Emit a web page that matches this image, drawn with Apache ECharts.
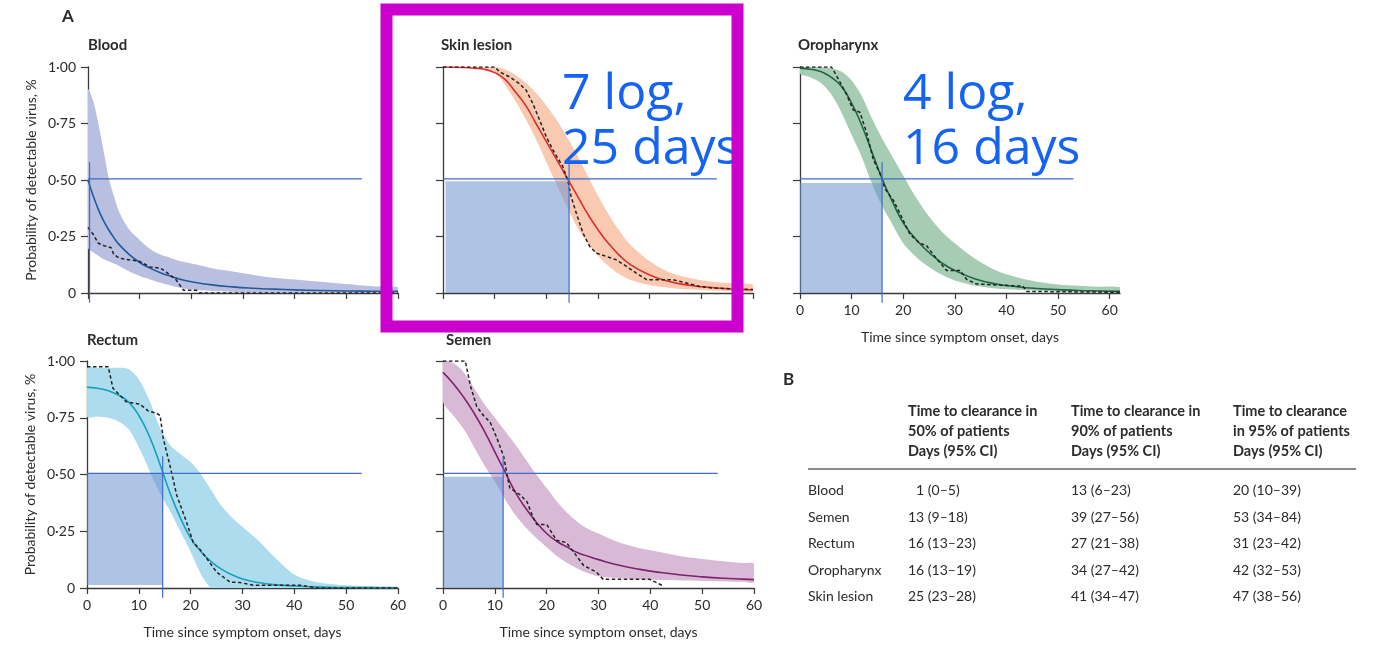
<!DOCTYPE html>
<html>
<head>
<meta charset="utf-8">
<script src="https://cdn.jsdelivr.net/npm/echarts@6/dist/echarts.min.js"></script>
<style>
  html, body { margin: 0; padding: 0; background: #fff; }
  #chart { width: 1383px; height: 645px; }
</style>
</head>
<body>
<div id="chart"></div>
<script>
// ---- values ----
const yTicks = [0, 0.25, 0.5, 0.75, 1];
const yTickLabels = ['0', '0·25', '0·50', '0·75', '1·00'];
const xTicks = [0, 10, 20, 30, 40, 50, 60];

// Blood
const bloodDays  = [0, 1, 2, 3, 4, 5, 6, 8, 10, 12, 14, 16, 18, 20, 24, 28, 32, 36, 40, 45, 50, 55, 60];
const bloodFit   = [0.50, 0.43, 0.37, 0.32, 0.28, 0.245, 0.215, 0.17, 0.135, 0.11, 0.09, 0.074, 0.06, 0.05, 0.036, 0.027, 0.021, 0.017, 0.014, 0.011, 0.009, 0.008, 0.007];
const bloodUpper = [0.90, 0.85, 0.75, 0.63, 0.51, 0.43, 0.36, 0.28, 0.235, 0.195, 0.17, 0.155, 0.14, 0.13, 0.11, 0.095, 0.08, 0.068, 0.06, 0.05, 0.04, 0.03, 0.025];
const bloodLower = [0.20, 0.18, 0.165, 0.15, 0.14, 0.13, 0.12, 0.095, 0.075, 0.06, 0.045, 0.033, 0.022, 0.015, 0.009, 0.006, 0.004, 0.003, 0.002, 0.002, 0.001, 0.001, 0.001];
const bloodKmDays   = [0, 1, 2, 3, 4.5, 5, 6, 7, 10, 12, 14, 15, 17, 18.5, 21, 21.5, 60];
const bloodKmValues = [0.29, 0.26, 0.22, 0.21, 0.2, 0.17, 0.155, 0.15, 0.14, 0.115, 0.11, 0.095, 0.06, 0.012, 0.012, 0, 0];

// Skin lesion
const skinDays  = [0, 4, 6, 8, 10, 12, 14, 16, 18, 20, 22, 24, 26, 28, 30, 32, 34, 36, 40, 44, 48, 52, 56, 60];
const skinFit   = [1, 0.998, 0.995, 0.99, 0.975, 0.945, 0.89, 0.83, 0.75, 0.67, 0.59, 0.51, 0.43, 0.35, 0.28, 0.22, 0.17, 0.13, 0.08, 0.05, 0.033, 0.024, 0.018, 0.014];
const skinUpper = [1, 1, 1, 1, 1, 0.99, 0.965, 0.93, 0.885, 0.83, 0.765, 0.69, 0.61, 0.52, 0.43, 0.35, 0.28, 0.22, 0.14, 0.09, 0.065, 0.05, 0.043, 0.037];
const skinLower = [1, 1, 1, 0.995, 0.98, 0.92, 0.85, 0.77, 0.68, 0.58, 0.48, 0.38, 0.29, 0.22, 0.165, 0.12, 0.085, 0.06, 0.035, 0.022, 0.015, 0.011, 0.008, 0.007];
const skinKmDays   = [0, 10, 11, 12.9, 14.8, 16.1, 17.4, 18.7, 20, 21.3, 23.2, 24.2, 24.8, 25.8, 27.1, 28.4, 29.7, 31.6, 33.5, 35.5, 37.4, 39.4, 44.5, 47.1, 49.7, 52.3, 60];
const skinKmValues = [1, 1, 0.978, 0.956, 0.926, 0.897, 0.838, 0.765, 0.691, 0.632, 0.559, 0.493, 0.426, 0.353, 0.265, 0.206, 0.176, 0.162, 0.147, 0.118, 0.088, 0.059, 0.059, 0.044, 0.029, 0.022, 0.015];

// Oropharynx
const oroDays  = [0, 2, 4, 6, 8, 10, 12, 14, 16, 18, 20, 22, 24, 26, 28, 30, 34, 38, 42, 46, 50, 54, 58, 62];
const oroFit   = [0.995, 0.99, 0.98, 0.955, 0.915, 0.84, 0.74, 0.62, 0.5, 0.4, 0.31, 0.25, 0.2, 0.16, 0.125, 0.1, 0.062, 0.04, 0.028, 0.02, 0.015, 0.011, 0.009, 0.007];
const oroUpper = [1, 1, 1, 0.995, 0.98, 0.94, 0.87, 0.77, 0.68, 0.6, 0.52, 0.44, 0.37, 0.31, 0.26, 0.22, 0.15, 0.1, 0.07, 0.05, 0.038, 0.032, 0.028, 0.025];
const oroLower = [0.97, 0.955, 0.93, 0.88, 0.8, 0.7, 0.6, 0.48, 0.38, 0.3, 0.22, 0.17, 0.13, 0.1, 0.075, 0.055, 0.032, 0.02, 0.014, 0.01, 0.007, 0.005, 0.004, 0.003];
const oroKmDays   = [0, 6.1, 7.1, 9, 10.3, 11.6, 12.9, 14.2, 15.5, 16.5, 18.1, 19.4, 21.3, 23.2, 24.5, 26.5, 28.4, 31, 32.3, 34.2, 43.2, 43.9, 62];
const oroKmValues = [1, 1, 0.96, 0.88, 0.81, 0.8, 0.71, 0.59, 0.53, 0.46, 0.41, 0.35, 0.26, 0.22, 0.21, 0.15, 0.1, 0.1, 0.06, 0.04, 0.03, 0.007, 0.003];

// Rectum
const rectumDays  = [0, 2, 4, 6, 8, 10, 12, 14, 16, 18, 20, 22, 24, 26, 28, 30, 33, 36, 40, 44, 48, 52, 56, 60];
const rectumFit   = [0.885, 0.88, 0.87, 0.85, 0.82, 0.76, 0.67, 0.55, 0.42, 0.31, 0.22, 0.16, 0.115, 0.082, 0.058, 0.04, 0.024, 0.015, 0.009, 0.005, 0.003, 0.002, 0.001, 0.001];
const rectumUpper = [0.97, 0.97, 0.97, 0.97, 0.965, 0.92, 0.83, 0.71, 0.63, 0.59, 0.555, 0.5, 0.43, 0.36, 0.31, 0.27, 0.21, 0.14, 0.06, 0.027, 0.015, 0.01, 0.008, 0.006];
const rectumLower = [0.755, 0.755, 0.75, 0.735, 0.7, 0.62, 0.52, 0.42, 0.34, 0.25, 0.16, 0.06, 0, 0, 0, 0, 0, 0, 0, 0, 0, 0, 0, 0];
const rectumKmDays   = [0, 4.1, 5, 7.6, 10.2, 11.8, 13.4, 14.1, 14.7, 16, 17.3, 19.2, 20.5, 21.8, 23.1, 25, 27.6, 29.5, 32.1, 41.2, 44.4, 60];
const rectumKmValues = [0.975, 0.975, 0.88, 0.82, 0.81, 0.78, 0.77, 0.76, 0.66, 0.54, 0.41, 0.29, 0.2, 0.17, 0.13, 0.07, 0.026, 0.024, 0.012, 0.012, 0, 0];

// Semen
const semenDays  = [0, 2, 4, 6, 8, 10, 12, 14, 16, 18, 20, 22, 24, 26, 28, 30, 34, 38, 42, 46, 50, 54, 58, 60];
const semenFit   = [0.95, 0.9, 0.84, 0.77, 0.69, 0.6, 0.51, 0.42, 0.35, 0.29, 0.24, 0.205, 0.18, 0.155, 0.14, 0.125, 0.1, 0.082, 0.068, 0.057, 0.049, 0.043, 0.039, 0.037];
const semenUpper = [1, 0.99, 0.95, 0.88, 0.81, 0.75, 0.69, 0.63, 0.565, 0.5, 0.44, 0.38, 0.33, 0.29, 0.26, 0.24, 0.2, 0.175, 0.158, 0.14, 0.128, 0.118, 0.11, 0.107];
const semenLower = [0.82, 0.76, 0.7, 0.62, 0.54, 0.47, 0.39, 0.32, 0.265, 0.22, 0.18, 0.14, 0.11, 0.085, 0.065, 0.052, 0.043, 0.038, 0.035, 0.033, 0.031, 0.029, 0.027, 0.026];
const semenKmDays   = [0, 4.3, 5.3, 6.5, 7.8, 9.1, 10.4, 11.7, 12.6, 12.9, 14.9, 16.2, 17.4, 18.1, 20, 21.9, 23.8, 25.8, 27.1, 29.6, 30.9, 39.9, 42.4];
const semenKmValues = [1, 1, 0.89, 0.8, 0.76, 0.73, 0.66, 0.58, 0.47, 0.44, 0.41, 0.38, 0.31, 0.28, 0.28, 0.21, 0.2, 0.14, 0.1, 0.07, 0.038, 0.038, 0.01];

// median day (vertical guide) and shaded box [x0, y0, x1, y1]
const medianDays = { blood: 0.3, skin: 24.4, oro: 15.9, rectum: 14.6, semen: 11.6 };
const halfBoxes  = { skin: [0.5, 0, 24.4, 0.495], oro: [0, 0, 15.9, 0.487], rectum: [0, 0.013, 14.6, 0.507], semen: [0, 0, 11.6, 0.49] };
const halfLevel = 0.505;
const halfLineEnd = 53;

// table B
const tableHeaders = ['Time to clearance in\n50% of patients\nDays (95% CI)', 'Time to clearance in\n90% of patients\nDays (95% CI)', 'Time to clearance\nin 95% of patients\nDays (95% CI)'];
const tableSites = ['Blood', 'Semen', 'Rectum', 'Oropharynx', 'Skin lesion'];
const clear50 = ['\u20071 (0–5)', '13 (9–18)', '16 (13–23)', '16 (13–19)', '25 (23–28)'];
const clear90 = ['13 (6–23)', '39 (27–56)', '27 (21–38)', '34 (27–42)', '41 (34–47)'];
const clear95 = ['20 (10–39)', '53 (34–84)', '31 (23–42)', '42 (32–53)', '47 (38–56)'];

// ---- layout ----
const FONT = 'Lato, "Open Sans", sans-serif';
const TXT = '#2b2b2b';
const AX = '#3a3a3a';
const GUIDE = '#3b6dcc';

const panels = [
  { key: 'blood', title: 'Blood', grid: { left: 88, top: 67, width: 310, height: 226 }, xMax: 60, showX: false, showY: true,
    days: bloodDays, fit: bloodFit, upper: bloodUpper, lower: bloodLower, kmD: bloodKmDays, kmV: bloodKmValues, band: '#b9bfe1', line: '#24599c', titlePos: [88, 45] },
  { key: 'skin', title: 'Skin lesion', grid: { left: 443, top: 67, width: 310, height: 226 }, xMax: 60, showX: false, showY: false,
    days: skinDays, fit: skinFit, upper: skinUpper, lower: skinLower, kmD: skinKmDays, kmV: skinKmValues, band: '#f9c9b2', line: '#d9302c', titlePos: [441, 45] },
  { key: 'oro', title: 'Oropharynx', grid: { left: 800, top: 67, width: 320, height: 226 }, xMax: 62, showX: true, showY: false,
    days: oroDays, fit: oroFit, upper: oroUpper, lower: oroLower, kmD: oroKmDays, kmV: oroKmValues, band: '#a6cdb3', line: '#1e6642', titlePos: [798, 45] },
  { key: 'rectum', title: 'Rectum', grid: { left: 87, top: 361, width: 311, height: 227 }, xMax: 60, showX: true, showY: true,
    days: rectumDays, fit: rectumFit, upper: rectumUpper, lower: rectumLower, kmD: rectumKmDays, kmV: rectumKmValues, band: '#acdcee', line: '#1aa0b9', titlePos: [87, 340] },
  { key: 'semen', title: 'Semen', grid: { left: 443, top: 361, width: 311, height: 227 }, xMax: 60, showX: true, showY: false,
    days: semenDays, fit: semenFit, upper: semenUpper, lower: semenLower, kmD: semenKmDays, kmV: semenKmValues, band: '#d9bad6', line: '#7e2270', titlePos: [446, 340] }
];

const grid = [], xAxis = [], yAxis = [], series = [], graphic = [];

panels.forEach((p, i) => {
  grid.push(p.grid);
  xAxis.push({
    type: 'value', gridIndex: i, min: 0, max: p.xMax,
    axisLine: { lineStyle: { color: AX, width: 1.3 } },
    axisTick: { length: 6, customValues: xTicks, lineStyle: { color: AX, width: 1.2 } },
    axisLabel: { show: p.showX, customValues: xTicks, margin: 10, fontSize: 14, color: TXT, fontFamily: FONT },
    splitLine: { show: false },
    name: p.showX ? 'Time since symptom onset, days' : '',
    nameLocation: 'middle', nameGap: 37,
    nameTextStyle: { fontSize: 14, color: TXT, fontFamily: FONT }
  });
  yAxis.push({
    type: 'value', gridIndex: i, min: 0, max: 1, interval: 0.25,
    axisLine: { show: true, lineStyle: { color: AX, width: 1.3 } },
    axisTick: { show: true, length: 7, lineStyle: { color: AX, width: 1.2 } },
    axisLabel: { show: p.showY, margin: 12, fontSize: 14, color: TXT, fontFamily: FONT,
      formatter: v => yTickLabels[yTicks.indexOf(v)] },
    splitLine: { show: false },
    name: p.showY ? 'Probability of detectable virus, %' : '',
    nameLocation: 'middle', nameGap: 50,
    nameTextStyle: { fontSize: 14, color: TXT, fontFamily: FONT }
  });

  // confidence band
  series.push({
    type: 'custom', xAxisIndex: i, yAxisIndex: i, z: 1, clip: true, silent: true,
    data: p.days.map((d, k) => [d, p.lower[k], p.upper[k]]),
    encode: { x: 0, y: [1, 2] },
    renderItem: (params, api) => {
      if (params.dataIndex !== 0) return null;
      const top = p.days.map((d, k) => api.coord([d, p.upper[k]]));
      const bot = p.days.map((d, k) => api.coord([d, p.lower[k]])).reverse();
      return { type: 'polygon', shape: { points: top.concat(bot), smooth: 0.3 }, style: { fill: p.band } };
    }
  });

  // 50% box
  const box = halfBoxes[p.key];
  if (box) {
    series.push({
      type: 'custom', xAxisIndex: i, yAxisIndex: i, z: 2, silent: true,
      data: [box], encode: { x: [0, 2], y: [1, 3] },
      renderItem: (params, api) => {
        const a = api.coord([api.value(0), api.value(1)]);
        const b = api.coord([api.value(2), api.value(3)]);
        return { type: 'rect', shape: { x: a[0], y: b[1], width: b[0] - a[0], height: a[1] - b[1] },
          style: { fill: 'rgba(110,145,208,0.55)' } };
      }
    });
  }

  // model fit
  series.push({
    type: 'line', xAxisIndex: i, yAxisIndex: i, z: 3, smooth: true, showSymbol: false, silent: true,
    data: p.days.map((d, k) => [d, p.fit[k]]),
    lineStyle: { color: p.line, width: 1.6 }
  });

  // observed (Kaplan-Meier) dashed
  series.push({
    type: 'line', xAxisIndex: i, yAxisIndex: i, z: 4, showSymbol: false, silent: true,
    data: p.kmD.map((d, k) => [d, p.kmV[k]]),
    lineStyle: { color: '#222', width: 1.5, type: [3.5, 2.5] }
  });

  // guide lines
  series.push({
    type: 'line', xAxisIndex: i, yAxisIndex: i, z: 5, showSymbol: false, silent: true,
    data: [[0, halfLevel], [halfLineEnd, halfLevel]],
    lineStyle: { color: GUIDE, width: 1.2 }
  });
  const m = medianDays[p.key];
  series.push({
    type: 'line', xAxisIndex: i, yAxisIndex: i, z: 5, showSymbol: false, silent: true, clip: false,
    data: [[m, 0.58], [m, -0.043]],
    lineStyle: { color: GUIDE, width: 1.2 }
  });

  graphic.push({ type: 'text', left: p.titlePos[0], top: p.titlePos[1] - 7,
    style: { text: p.title, font: 'bold 15px ' + FONT, fill: TXT } });
});

// panel letters
graphic.push({ type: 'text', left: 62, top: 8, style: { text: 'A', font: 'bold 17px ' + FONT, fill: TXT } });
graphic.push({ type: 'text', left: 783, top: 371, style: { text: 'B', font: 'bold 17px ' + FONT, fill: TXT } });

// table B
const colX = [908, 1071, 1233];
const rowY = [490, 517, 543, 570, 596];
tableHeaders.forEach((h, c) => {
  graphic.push({ type: 'text', left: colX[c], top: 401,
    style: { text: h, font: 'bold 14.5px ' + FONT, fill: TXT, lineHeight: 20 } });
});
graphic.push({ type: 'line', shape: { x1: 808, y1: 469, x2: 1356, y2: 469 }, style: { stroke: '#666', lineWidth: 1.6 } });
[tableSites, clear50, clear90, clear95].forEach((col, c) => {
  col.forEach((txt, r) => {
    graphic.push({ type: 'text', x: c === 0 ? 808 : colX[c - 1], y: rowY[r],
      style: { text: txt, font: '14px ' + FONT, fill: TXT, verticalAlign: 'middle' } });
  });
});

// overlay annotations
const noteFont = '50px "Open Sans", sans-serif';
const noteColor = '#1463f3';
graphic.push({ type: 'text', x: 562, y: 70, z: 50, style: { text: '7 log,', font: noteFont, fill: noteColor } });
graphic.push({ type: 'text', x: 562, y: 125, z: 50, style: { text: '25 days', font: noteFont, fill: noteColor } });
graphic.push({ type: 'text', x: 903, y: 70, z: 50, style: { text: '4 log,', font: noteFont, fill: noteColor } });
graphic.push({ type: 'text', x: 903, y: 125, z: 50, style: { text: '16 days', font: noteFont, fill: noteColor } });
graphic.push({ type: 'rect', z: 60, shape: { x: 386.5, y: 9.5, width: 351, height: 317 },
  style: { fill: null, stroke: '#cc00cc', lineWidth: 12 } });

const chart = echarts.init(document.getElementById('chart'));
chart.setOption({
  animation: false,
  backgroundColor: '#fff',
  textStyle: { fontFamily: FONT },
  grid, xAxis, yAxis, series, graphic
});
window.addEventListener('resize', () => chart.resize());
</script>
</body>
</html>
